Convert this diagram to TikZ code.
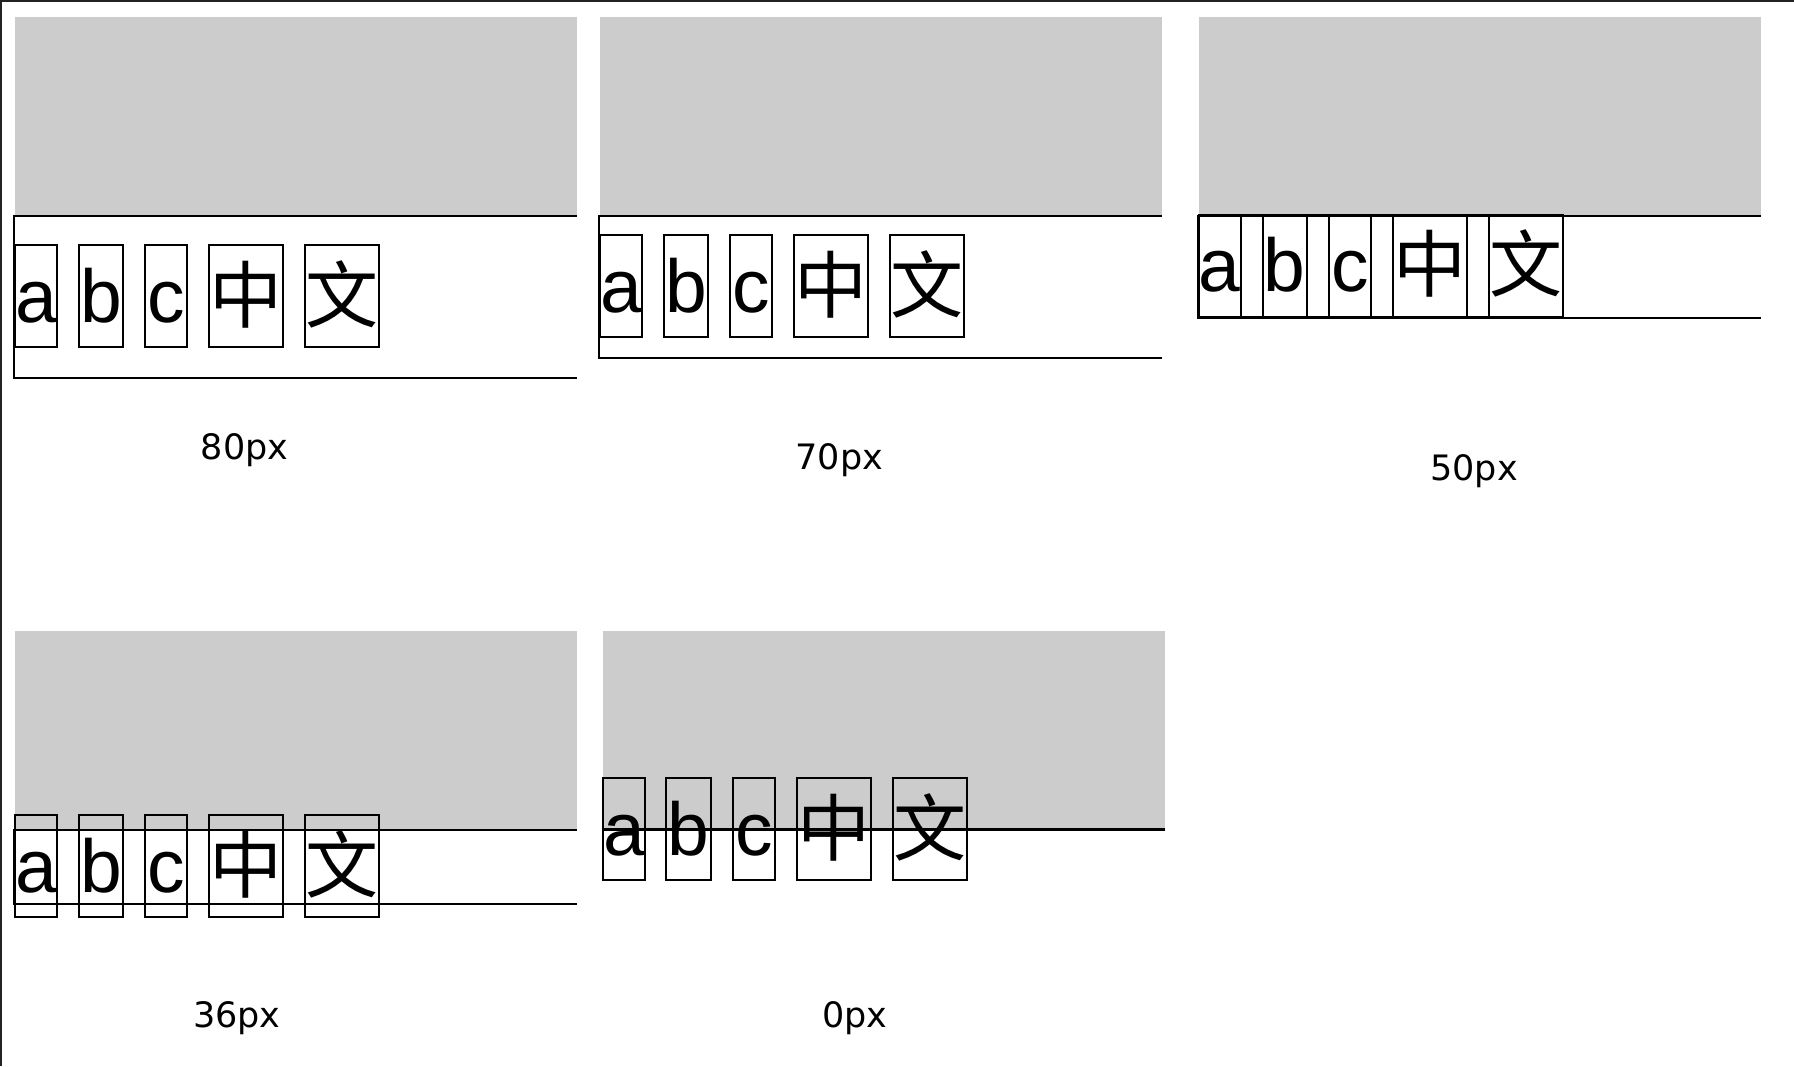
\documentclass[tikz,border=0pt]{standalone}
\usepackage{fontspec}
\setmainfont{Liberation Sans}
\newfontfamily\cjkfont{Noto Sans CJK SC}
\newfontfamily\labfont{DejaVu Sans}
\definecolor{boxgray}{RGB}{204,204,204}
\definecolor{framec}{RGB}{34,34,34}
\newcommand{\lat}[1]{\makebox[0pt]{\fontsize{75}{80}\selectfont #1}}
\newcommand{\han}[1]{\makebox[0pt]{\cjkfont\fontsize{73}{80}\selectfont #1}}
\tikzset{
  gbox/.style={draw, line width=2pt, inner sep=0pt, text height=77pt, text depth=25pt, anchor=south west},
  sbox/.style={draw, line width=2pt, inner sep=0pt, text height=77pt, text depth=25pt, anchor=south west},
  grayarea/.style={fill=boxgray, draw=none},
  lbox/.style={line width=2pt},
  lab/.style={anchor=base, inner sep=0pt, font=\labfont\fontsize{35}{40}\selectfont}
}
\begin{document}
\begin{tikzpicture}[x=1pt, y=-1pt]
\useasboundingbox (0,0) rectangle (1794,1066);
% frame
\draw[framec, line width=2pt] (1,1066) -- (1,1) -- (1794,1);

% ---------- panel 1 : 80px ----------
\fill[grayarea] (14.9,17) rectangle (576.7,215);
\draw[lbox] (576.7,216) -- (13.8,216) -- (13.8,378) -- (576.7,378);
\node[gbox, minimum width=42.4pt] (p1a) at (13.8,348) {\lat{a}};
\node[gbox, minimum width=44.4pt] (p1b) at (77.7,348) {\lat{b}};
\node[gbox, minimum width=42.5pt] (p1c) at (143.9,348) {\lat{c}};
\node[gbox, minimum width=74.6pt] (p1d) at (207.8,348) {\han{中}};
\node[gbox, minimum width=74.3pt] (p1e) at (303.8,348) {\han{文}};
\node[lab] (l1) at (244.7,459.3) {80px};

% ---------- panel 2 : 70px ----------
\fill[grayarea] (599.9,17) rectangle (1162,215);
\draw[lbox] (1162,216) -- (598.75,216) -- (598.75,357.7) -- (1162,357.7);
\node[gbox, minimum width=42.45pt] (p2a) at (598.75,338) {\lat{a}};
\node[gbox, minimum width=44.7pt] (p2b) at (662.7,338) {\lat{b}};
\node[gbox, minimum width=42.4pt] (p2c) at (728.9,338) {\lat{c}};
\node[gbox, minimum width=74.6pt] (p2d) at (792.8,338) {\han{中}};
\node[gbox, minimum width=74.6pt] (p2e) at (888.8,338) {\han{文}};
\node[lab] (l2) at (839.3,469.3) {70px};

% ---------- panel 3 : 50px ----------
\fill[grayarea] (1199.2,17) rectangle (1761.1,215);
\draw[lbox] (1761.1,216) -- (1197.6,216) -- (1197.6,317.7) -- (1761.1,317.7);
\node[gbox, minimum width=42.3pt] (p3a) at (1197.6,317.7) {\lat{a}};
\node[sbox, minimum width=21.9pt] (p3s1) at (1239.9,317.7) {};
\node[gbox, minimum width=43.9pt] (p3b) at (1261.8,317.7) {\lat{b}};
\node[sbox, minimum width=22.3pt] (p3s2) at (1305.7,317.7) {};
\node[gbox, minimum width=42.3pt] (p3c) at (1328.0,317.7) {\lat{c}};
\node[sbox, minimum width=21.9pt] (p3s3) at (1370.3,317.7) {};
\node[gbox, minimum width=73.7pt] (p3d) at (1392.2,317.7) {\han{中}};
\node[sbox, minimum width=22.3pt] (p3s4) at (1465.9,317.7) {};
\node[gbox, minimum width=73.6pt] (p3e) at (1488.2,317.7) {\han{文}};
\node[lab] (l3) at (1474,480) {50px};

% ---------- panel 4 : 36px ----------
\fill[grayarea] (14.9,631) rectangle (576.7,829.7);
\draw[lbox] (576.7,829.7) -- (13.8,829.7) -- (13.8,903.7) -- (576.7,903.7);
\node[gbox, minimum width=42.4pt] (p4a) at (13.8,918) {\lat{a}};
\node[gbox, minimum width=44.4pt] (p4b) at (77.7,918) {\lat{b}};
\node[gbox, minimum width=42.5pt] (p4c) at (143.9,918) {\lat{c}};
\node[gbox, minimum width=74.2pt] (p4d) at (207.8,918) {\han{中}};
\node[gbox, minimum width=74.3pt] (p4e) at (303.8,918) {\han{文}};
\node[lab] (l4) at (236.9,1027.3) {36px};

% ---------- panel 5 : 0px ----------
\fill[grayarea] (603,630.5) rectangle (1165.1,829.7);
\draw[line width=3pt] (601.8,829.7) -- (1165.1,829.7);
\node[gbox, minimum width=42.1pt] (p5a) at (601.8,881) {\lat{a}};
\node[gbox, minimum width=44.8pt] (p5b) at (665.3,881) {\lat{b}};
\node[gbox, minimum width=42.5pt] (p5c) at (731.9,881) {\lat{c}};
\node[gbox, minimum width=74.2pt] (p5d) at (795.8,881) {\han{中}};
\node[gbox, minimum width=74.2pt] (p5e) at (891.9,881) {\han{文}};
\node[lab] (l5) at (854.6,1027.7) {0px};
\end{tikzpicture}
\end{document}
